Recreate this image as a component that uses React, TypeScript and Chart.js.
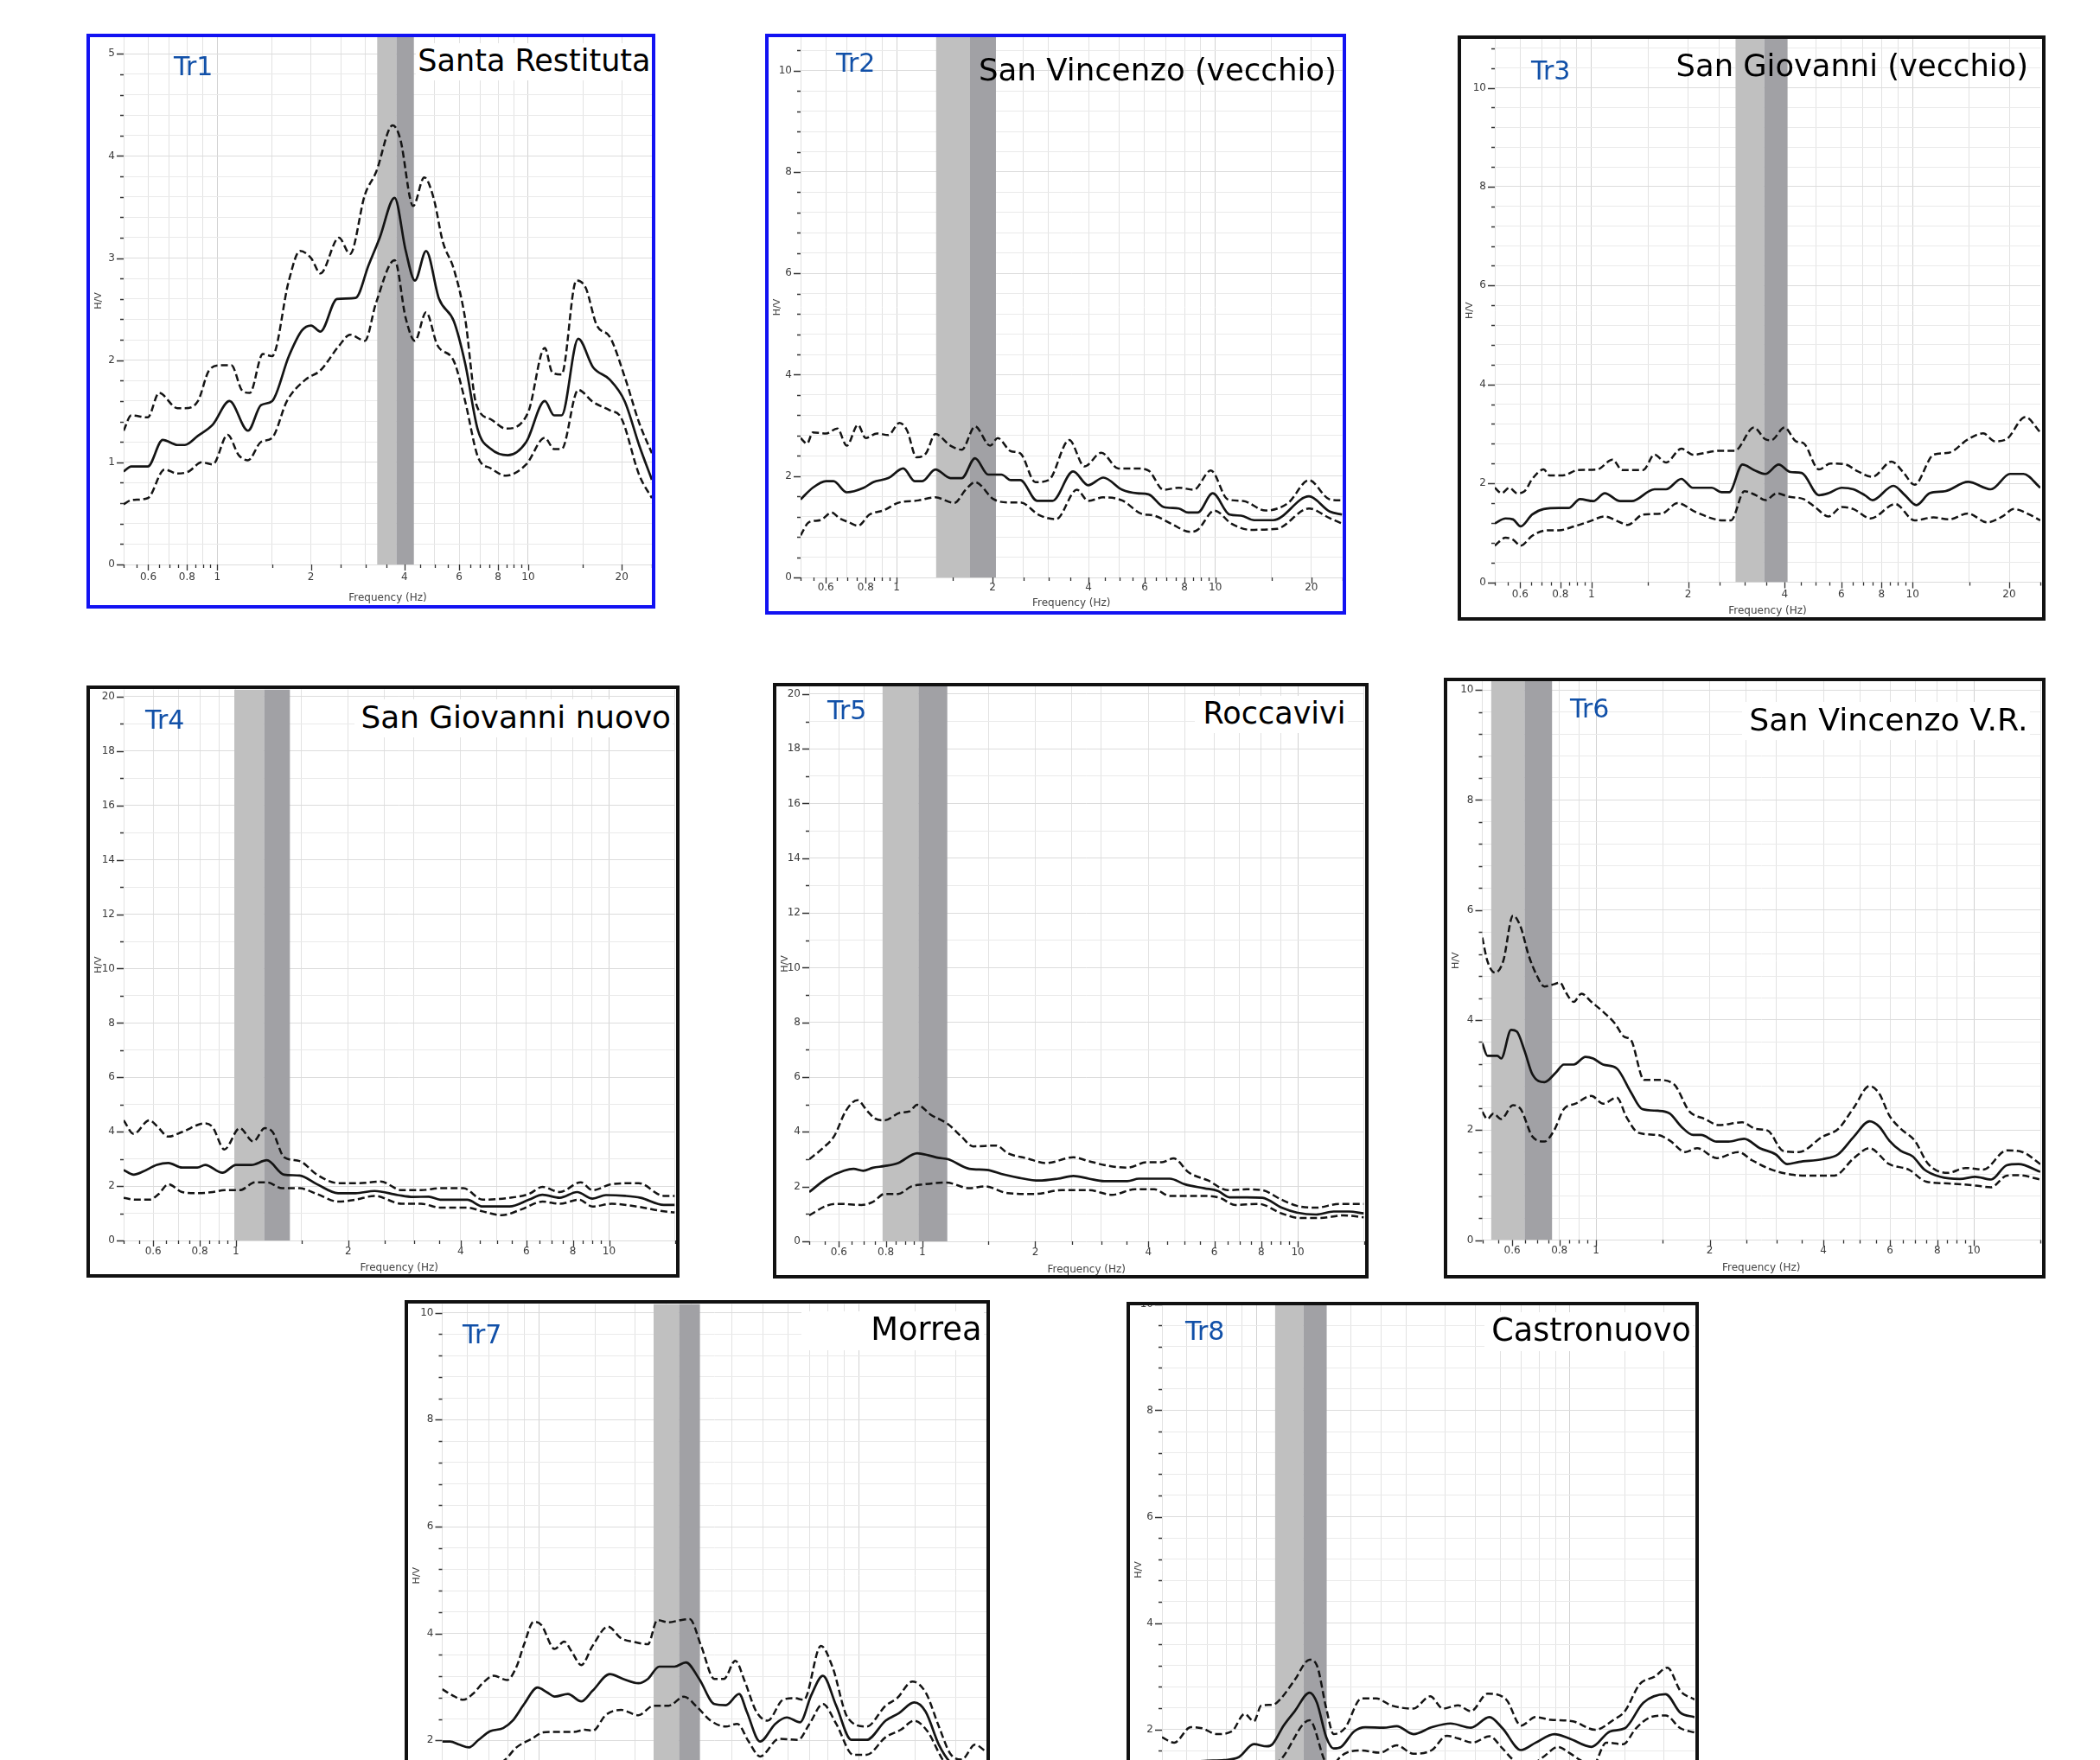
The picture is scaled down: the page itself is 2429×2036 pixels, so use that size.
import React, { useEffect, useRef } from "react";
import { Chart, registerables } from "chart.js";

Chart.register(...registerables);

const FONT = '"DejaVu Sans", "Noto Sans", sans-serif';
Chart.defaults.font.family = FONT;

// ---------------- axes / tick definitions ----------------
const X_TICKS = [0.5, 0.55, 0.6, 0.65, 0.7, 0.75, 0.8, 0.85, 0.9, 0.95, 1, 1.5, 2, 2.5, 3, 3.5, 4, 4.5, 5, 5.5, 6, 6.5, 7, 7.5, 8, 8.5, 9, 9.5, 10, 15, 20, 25];
const X_TICK_LABELS = [0.6, 0.8, 1, 2, 4, 6, 8, 10, 20];
const X_GRID = [0.5, 0.6, 0.7, 0.8, 0.9, 1, 1.5, 2, 2.5, 3, 4, 5, 6, 7, 8, 9, 10, 15, 20];
const X_GRID_STRONG = [1, 10];
const X_TITLE = "Frequency (Hz)";
const Y_TITLE = "H/V";

// ---------------- Tr1 Santa Restituta ----------------
const TR1_MEAN_F = [0.5, 0.529, 0.598, 0.668, 0.745, 0.787, 0.867, 0.968, 1.095, 1.256, 1.383, 1.502, 1.7, 1.871, 2.004, 2.147, 2.43, 2.787, 3.068, 3.332, 3.72, 4.04, 4.325, 4.697, 5.17, 5.77, 6.27, 6.9, 7.6, 8.6, 9.86, 11.31, 12.12, 12.81, 14.49, 16.18, 18.3, 20.43, 22.8, 25];
const TR1_MEAN_V = [0.91, 0.96, 0.96, 1.22, 1.17, 1.17, 1.26, 1.37, 1.6, 1.31, 1.56, 1.6, 2.04, 2.29, 2.34, 2.28, 2.6, 2.61, 2.93, 3.2, 3.59, 3.07, 2.78, 3.07, 2.6, 2.38, 1.97, 1.31, 1.13, 1.07, 1.2, 1.6, 1.46, 1.46, 2.21, 1.93, 1.81, 1.6, 1.16, 0.83];
const TR1_UP_F = [0.5, 0.529, 0.598, 0.65, 0.745, 0.787, 0.867, 0.941, 1.022, 1.11, 1.205, 1.273, 1.402, 1.502, 1.7, 1.845, 2.004, 2.147, 2.463, 2.674, 2.985, 3.241, 3.667, 3.876, 4.267, 4.633, 4.963, 5.316, 5.77, 6.27, 6.807, 7.6, 8.479, 10.0, 11.31, 11.96, 12.81, 14.29, 15.31, 16.63, 18.3, 20.43, 22.8, 25];
const TR1_UP_V = [1.31, 1.46, 1.44, 1.68, 1.53, 1.53, 1.6, 1.9, 1.95, 1.95, 1.7, 1.68, 2.06, 2.04, 2.78, 3.07, 3.0, 2.85, 3.2, 3.04, 3.62, 3.84, 4.3, 4.17, 3.51, 3.79, 3.59, 3.16, 2.89, 2.41, 1.57, 1.42, 1.33, 1.49, 2.12, 1.88, 1.86, 2.78, 2.71, 2.34, 2.23, 1.84, 1.38, 1.09];
const TR1_LO_F = [0.5, 0.529, 0.598, 0.677, 0.745, 0.809, 0.891, 0.968, 1.08, 1.173, 1.256, 1.383, 1.502, 1.676, 1.923, 2.147, 2.463, 2.674, 2.985, 3.241, 3.72, 4.04, 4.325, 4.697, 5.1, 5.77, 6.27, 6.9, 7.6, 8.479, 9.86, 11.31, 12.12, 12.81, 14.49, 16.18, 18.3, 19.88, 22.8, 25];
const TR1_LO_V = [0.59, 0.63, 0.65, 0.93, 0.89, 0.91, 1.0, 0.98, 1.27, 1.07, 1.02, 1.2, 1.24, 1.6, 1.81, 1.9, 2.14, 2.25, 2.19, 2.56, 2.98, 2.41, 2.19, 2.47, 2.15, 1.99, 1.6, 1.05, 0.94, 0.87, 0.98, 1.24, 1.13, 1.13, 1.71, 1.59, 1.51, 1.44, 0.87, 0.65];
const TR1_BAND_LIGHT = [3.27, 3.77];
const TR1_BAND_DARK = [3.77, 4.29];

// ---------------- Tr2 San Vincenzo (vecchio) ----------------
const TR2_MEAN_F = [0.5, 0.546, 0.601, 0.634, 0.698, 0.789, 0.845, 0.942, 1.05, 1.14, 1.204, 1.324, 1.476, 1.602, 1.763, 1.939, 2.133, 2.284, 2.444, 2.763, 3.082, 3.58, 3.993, 4.452, 5.1, 5.69, 6.17, 6.88, 7.68, 8.22, 8.8, 9.81, 11.09, 12.04, 13.24, 15.18, 19.66, 22.84, 25];
const TR2_MEAN_V = [1.54, 1.77, 1.9, 1.9, 1.68, 1.77, 1.88, 1.96, 2.15, 1.9, 1.9, 2.13, 1.96, 1.96, 2.35, 2.03, 2.03, 1.92, 1.92, 1.51, 1.51, 2.09, 1.82, 1.97, 1.73, 1.66, 1.64, 1.39, 1.36, 1.28, 1.28, 1.66, 1.24, 1.22, 1.13, 1.13, 1.6, 1.3, 1.24];
const TR2_UP_F = [0.5, 0.524, 0.546, 0.601, 0.652, 0.698, 0.757, 0.8, 0.868, 0.942, 1.022, 1.079, 1.155, 1.237, 1.324, 1.476, 1.602, 1.763, 1.966, 2.076, 2.284, 2.444, 2.726, 3.0, 3.48, 3.886, 4.39, 4.966, 5.69, 6.17, 6.88, 7.68, 8.56, 9.68, 10.94, 12.2, 14.37, 16.92, 19.66, 22.84, 25];
const TR2_UP_V = [2.75, 2.64, 2.86, 2.84, 2.94, 2.6, 3.01, 2.75, 2.84, 2.81, 3.05, 2.9, 2.37, 2.45, 2.83, 2.6, 2.52, 2.98, 2.6, 2.75, 2.49, 2.45, 1.88, 1.92, 2.71, 2.19, 2.46, 2.15, 2.15, 2.11, 1.73, 1.77, 1.73, 2.11, 1.54, 1.51, 1.32, 1.47, 1.92, 1.54, 1.52];
const TR2_LO_F = [0.5, 0.531, 0.577, 0.626, 0.661, 0.707, 0.757, 0.822, 0.917, 1.008, 1.171, 1.324, 1.517, 1.647, 1.763, 2.02, 2.253, 2.444, 2.802, 3.167, 3.679, 3.993, 4.452, 5.1, 5.85, 6.43, 7.27, 8.33, 8.8, 9.94, 11.24, 12.88, 15.59, 19.66, 22.84, 25];
const TR2_LO_V = [0.83, 1.09, 1.13, 1.28, 1.17, 1.09, 1.02, 1.24, 1.33, 1.47, 1.52, 1.58, 1.47, 1.73, 1.88, 1.54, 1.48, 1.48, 1.23, 1.15, 1.73, 1.51, 1.58, 1.52, 1.26, 1.22, 1.06, 0.9, 0.94, 1.32, 1.06, 0.94, 0.96, 1.36, 1.17, 1.06];
const TR2_BAND_LIGHT = [1.331, 1.7];
const TR2_BAND_DARK = [1.7, 2.05];

// ---------------- Tr3 San Giovanni (vecchio) ----------------
const TR3_MEAN_F = [0.5, 0.54, 0.57, 0.602, 0.654, 0.71, 0.792, 0.848, 0.921, 1.014, 1.1, 1.228, 1.334, 1.572, 1.707, 1.905, 2.068, 2.371, 2.54, 2.684, 2.953, 3.206, 3.48, 3.83, 4.16, 4.516, 5.11, 5.47, 6.02, 6.54, 7.1, 7.5, 8.72, 9.47, 10.28, 11.31, 12.63, 14.88, 17.54, 20.12, 22.14, 25];
const TR3_MEAN_V = [1.19, 1.29, 1.27, 1.13, 1.37, 1.48, 1.5, 1.5, 1.68, 1.64, 1.8, 1.64, 1.64, 1.88, 1.88, 2.09, 1.91, 1.91, 1.82, 1.82, 2.38, 2.27, 2.19, 2.38, 2.23, 2.21, 1.76, 1.8, 1.91, 1.88, 1.76, 1.66, 1.95, 1.76, 1.56, 1.8, 1.84, 2.03, 1.88, 2.19, 2.19, 1.91];
const TR3_UP_F = [0.5, 0.525, 0.555, 0.586, 0.619, 0.654, 0.71, 0.74, 0.814, 0.909, 1.042, 1.163, 1.245, 1.448, 1.572, 1.707, 1.905, 2.068, 2.505, 2.796, 3.206, 3.48, 3.627, 3.993, 4.334, 4.579, 5.11, 5.546, 6.19, 6.72, 7.5, 8.6, 9.34, 10.14, 11.63, 12.98, 14.88, 16.6, 18.03, 19.58, 22.45, 25];
const TR3_UP_V = [1.91, 1.8, 1.91, 1.8, 1.84, 2.09, 2.28, 2.16, 2.16, 2.27, 2.28, 2.48, 2.27, 2.27, 2.58, 2.42, 2.7, 2.58, 2.66, 2.66, 3.13, 2.89, 2.87, 3.13, 2.85, 2.81, 2.28, 2.4, 2.38, 2.25, 2.13, 2.44, 2.23, 1.97, 2.58, 2.62, 2.89, 3.01, 2.85, 2.89, 3.34, 3.03];
const TR3_LO_F = [0.5, 0.54, 0.57, 0.602, 0.654, 0.73, 0.792, 0.884, 0.986, 1.1, 1.228, 1.297, 1.448, 1.66, 1.853, 2.125, 2.575, 2.72, 2.994, 3.25, 3.48, 3.78, 4.104, 4.579, 4.97, 5.47, 6.02, 6.54, 7.4, 8.84, 10.14, 11.63, 12.98, 14.88, 17.07, 19.05, 20.68, 23.08, 25];
const TR3_LO_V = [0.74, 0.9, 0.86, 0.74, 0.94, 1.05, 1.05, 1.13, 1.23, 1.33, 1.21, 1.16, 1.37, 1.39, 1.6, 1.41, 1.25, 1.25, 1.84, 1.76, 1.66, 1.8, 1.73, 1.68, 1.52, 1.33, 1.52, 1.48, 1.29, 1.58, 1.25, 1.31, 1.27, 1.39, 1.21, 1.33, 1.48, 1.37, 1.25];
const TR3_BAND_LIGHT = [2.81, 3.45];
const TR3_BAND_DARK = [3.45, 4.08];

// ---------------- Tr4 San Giovanni nuovo ----------------
const TR4_MEAN_F = [0.5, 0.532, 0.565, 0.614, 0.659, 0.717, 0.788, 0.827, 0.92, 1.0, 1.1, 1.21, 1.346, 1.481, 1.648, 1.878, 2.09, 2.354, 2.716, 2.987, 3.285, 3.528, 4.168, 4.584, 5.414, 6.1, 6.63, 7.375, 8.21, 9.03, 9.81, 11.05, 12.15, 14.02, 15];
const TR4_MEAN_V = [2.59, 2.42, 2.54, 2.78, 2.85, 2.68, 2.68, 2.78, 2.49, 2.78, 2.78, 2.95, 2.42, 2.39, 2.07, 1.74, 1.74, 1.82, 1.67, 1.6, 1.61, 1.5, 1.5, 1.25, 1.25, 1.5, 1.68, 1.57, 1.78, 1.54, 1.67, 1.64, 1.57, 1.31, 1.31];
const TR4_UP_F = [0.5, 0.532, 0.586, 0.614, 0.659, 0.717, 0.827, 0.867, 0.931, 1.024, 1.113, 1.195, 1.254, 1.346, 1.481, 1.648, 1.878, 2.141, 2.44, 2.781, 3.132, 3.528, 4.07, 4.584, 5.414, 6.1, 6.63, 7.375, 8.4, 9.03, 10.17, 12.01, 14.02, 15];
const TR4_UP_V = [4.42, 3.92, 4.42, 4.21, 3.82, 3.99, 4.31, 4.16, 3.35, 4.13, 3.64, 4.13, 3.99, 3.06, 2.92, 2.42, 2.11, 2.11, 2.17, 1.85, 1.85, 1.92, 1.92, 1.5, 1.57, 1.71, 1.97, 1.78, 2.14, 1.85, 2.07, 2.11, 1.64, 1.64];
const TR4_LO_F = [0.5, 0.538, 0.586, 0.621, 0.659, 0.717, 0.788, 0.867, 0.931, 1.024, 1.126, 1.21, 1.33, 1.481, 1.648, 1.878, 2.09, 2.354, 2.781, 3.132, 3.528, 4.168, 4.584, 5.16, 5.815, 6.63, 7.375, 8.31, 9.03, 10.17, 11.87, 14.02, 15];
const TR4_LO_V = [1.57, 1.5, 1.5, 1.71, 2.07, 1.78, 1.74, 1.78, 1.85, 1.85, 2.14, 2.14, 1.92, 1.92, 1.71, 1.43, 1.5, 1.64, 1.35, 1.35, 1.21, 1.21, 1.07, 0.93, 1.14, 1.43, 1.35, 1.5, 1.25, 1.35, 1.25, 1.07, 1.03];
const TR4_BAND_LIGHT = [0.99, 1.19];
const TR4_BAND_DARK = [1.19, 1.395];

// ---------------- Tr5 Roccavivi ----------------
const TR5_MEAN_F = [0.5, 0.556, 0.619, 0.656, 0.696, 0.739, 0.793, 0.862, 0.97, 1.041, 1.104, 1.172, 1.335, 1.484, 1.651, 1.814, 2.042, 2.298, 2.526, 2.777, 3.052, 3.518, 3.776, 4.561, 5.015, 5.642, 6.13, 6.58, 7.32, 8.05, 9.06, 9.95, 11.2, 12.46, 13.69, 15];
const TR5_MEAN_V = [1.8, 2.29, 2.58, 2.65, 2.58, 2.69, 2.75, 2.86, 3.22, 3.14, 3.05, 3.0, 2.65, 2.61, 2.44, 2.32, 2.22, 2.29, 2.39, 2.29, 2.2, 2.2, 2.29, 2.29, 2.08, 1.94, 1.84, 1.61, 1.61, 1.59, 1.23, 1.05, 0.98, 1.09, 1.09, 1.02];
const TR5_UP_F = [0.5, 0.543, 0.583, 0.626, 0.672, 0.713, 0.748, 0.793, 0.872, 0.925, 0.97, 1.053, 1.172, 1.273, 1.366, 1.574, 1.69, 1.903, 2.141, 2.526, 2.777, 3.052, 3.518, 3.958, 4.35, 4.67, 5.134, 5.78, 6.504, 7.32, 8.05, 9.06, 9.95, 11.2, 12.91, 15];
const TR5_UP_V = [3.0, 3.4, 3.85, 4.77, 5.16, 4.77, 4.49, 4.42, 4.7, 4.75, 4.99, 4.63, 4.28, 3.82, 3.47, 3.5, 3.22, 3.03, 2.86, 3.07, 2.93, 2.79, 2.69, 2.89, 2.89, 3.03, 2.51, 2.22, 1.87, 1.9, 1.87, 1.52, 1.3, 1.23, 1.37, 1.37];
const TR5_LO_F = [0.5, 0.556, 0.597, 0.688, 0.739, 0.793, 0.862, 0.936, 1.005, 1.158, 1.335, 1.467, 1.69, 1.994, 2.353, 2.777, 3.2, 3.687, 4.15, 4.561, 5.134, 5.642, 6.2, 6.82, 7.86, 9.06, 10.19, 11.47, 13.22, 15];
const TR5_LO_V = [0.95, 1.3, 1.37, 1.33, 1.44, 1.73, 1.73, 2.01, 2.08, 2.15, 1.94, 2.01, 1.76, 1.73, 1.87, 1.87, 1.7, 1.9, 1.9, 1.66, 1.66, 1.66, 1.59, 1.33, 1.37, 1.02, 0.85, 0.85, 0.95, 0.88];
const TR5_BAND_LIGHT = [0.784, 0.977];
const TR5_BAND_DARK = [0.977, 1.166];

// ---------------- Tr6 San Vincenzo V.R. ----------------
const TR6_MEAN_F = [0.5, 0.516, 0.548, 0.561, 0.596, 0.617, 0.647, 0.679, 0.73, 0.784, 0.822, 0.873, 0.938, 0.983, 1.044, 1.135, 1.234, 1.326, 1.458, 1.567, 1.683, 1.808, 1.897, 2.087, 2.242, 2.467, 2.714, 2.986, 3.208, 3.446, 3.977, 4.376, 4.815, 5.298, 5.623, 5.97, 6.41, 6.89, 7.4, 8.14, 9.18, 10.1, 11.11, 12.22, 13.13, 15];
const TR6_MEAN_V = [3.58, 3.35, 3.35, 3.3, 3.82, 3.79, 3.44, 3.01, 2.87, 3.05, 3.19, 3.19, 3.33, 3.3, 3.19, 3.12, 2.7, 2.38, 2.35, 2.3, 2.06, 1.91, 1.91, 1.79, 1.79, 1.84, 1.67, 1.56, 1.38, 1.42, 1.47, 1.56, 1.88, 2.16, 2.06, 1.81, 1.62, 1.52, 1.28, 1.15, 1.11, 1.15, 1.1, 1.36, 1.38, 1.24];
const TR6_UP_F = [0.5, 0.516, 0.541, 0.568, 0.603, 0.632, 0.663, 0.696, 0.73, 0.774, 0.803, 0.832, 0.873, 0.915, 0.972, 1.044, 1.121, 1.19, 1.234, 1.341, 1.458, 1.605, 1.766, 1.943, 2.112, 2.438, 2.65, 2.847, 3.132, 3.446, 3.977, 4.376, 4.815, 5.298, 5.623, 5.97, 6.41, 6.97, 7.58, 8.54, 9.51, 10.59, 12.22, 13.45, 15];
const TR6_UP_V = [5.5, 5.07, 4.86, 5.07, 5.9, 5.69, 5.18, 4.82, 4.61, 4.65, 4.68, 4.5, 4.33, 4.48, 4.33, 4.15, 3.94, 3.69, 3.65, 2.91, 2.91, 2.84, 2.34, 2.2, 2.09, 2.14, 2.02, 1.99, 1.62, 1.6, 1.88, 2.02, 2.41, 2.8, 2.66, 2.27, 2.02, 1.81, 1.38, 1.22, 1.31, 1.28, 1.63, 1.6, 1.38];
const TR6_LO_F = [0.5, 0.516, 0.535, 0.561, 0.603, 0.632, 0.679, 0.73, 0.774, 0.822, 0.883, 0.972, 1.044, 1.135, 1.205, 1.294, 1.458, 1.567, 1.724, 1.852, 2.087, 2.38, 2.588, 2.916, 3.286, 3.703, 4.273, 4.815, 5.298, 5.97, 6.73, 7.49, 8.54, 10.1, 11.11, 12.22, 13.13, 15];
const TR6_LO_V = [2.33, 2.2, 2.3, 2.2, 2.45, 2.38, 1.88, 1.79, 1.99, 2.38, 2.48, 2.62, 2.48, 2.59, 2.23, 1.95, 1.91, 1.81, 1.6, 1.67, 1.49, 1.6, 1.45, 1.28, 1.19, 1.17, 1.17, 1.49, 1.67, 1.38, 1.28, 1.06, 1.03, 0.99, 0.96, 1.17, 1.18, 1.1];
const TR6_BAND_LIGHT = [0.528, 0.647];
const TR6_BAND_DARK = [0.647, 0.765];

// ---------------- Tr7 Morrea ----------------
const TR7_MEAN_F = [0.5, 0.529, 0.566, 0.606, 0.649, 0.705, 0.775, 0.83, 0.901, 0.992, 1.062, 1.122, 1.234, 1.358, 1.474, 1.668, 1.835, 2.048, 2.193, 2.379, 2.655, 2.882, 3.171, 3.538, 3.84, 4.226, 4.463, 4.912, 5.48, 5.95, 6.546, 7.1, 7.714, 8.49, 9.47, 10.56, 12.11, 13.32, 14.87, 16.14, 17.76, 19.28, 20.93, 22.72, 25];
const TR7_MEAN_V = [1.98, 1.98, 1.92, 1.87, 2.01, 2.17, 2.23, 2.37, 2.68, 2.99, 2.9, 2.82, 2.87, 2.73, 2.93, 3.24, 3.15, 3.07, 3.15, 3.38, 3.38, 3.46, 3.15, 2.68, 2.66, 2.87, 2.54, 1.98, 2.31, 2.43, 2.34, 2.85, 3.21, 2.65, 2.01, 2.01, 2.37, 2.51, 2.71, 2.54, 1.92, 1.59, 1.47, 1.56, 1.53];
const TR7_UP_F = [0.5, 0.536, 0.582, 0.623, 0.676, 0.724, 0.797, 0.853, 0.901, 0.965, 1.019, 1.122, 1.201, 1.269, 1.358, 1.474, 1.645, 1.81, 1.992, 2.193, 2.347, 2.548, 2.766, 2.962, 3.215, 3.538, 3.787, 4.111, 4.403, 4.779, 5.188, 5.788, 6.284, 6.727, 7.61, 8.26, 9.21, 10.56, 12.11, 13.15, 14.67, 16.14, 17.76, 19.28, 20.93, 23.03, 25];
const TR7_UP_V = [2.96, 2.85, 2.76, 2.87, 3.1, 3.21, 3.13, 3.38, 3.8, 4.22, 4.16, 3.71, 3.85, 3.66, 3.41, 3.77, 4.13, 3.91, 3.84, 3.8, 4.25, 4.21, 4.25, 4.27, 3.77, 3.15, 3.15, 3.49, 3.1, 2.54, 2.37, 2.76, 2.79, 2.76, 3.77, 3.38, 2.43, 2.26, 2.65, 2.79, 3.1, 2.9, 2.26, 1.75, 1.64, 1.92, 1.78];
const TR7_LO_F = [0.5, 0.6, 0.7, 0.786, 0.853, 0.952, 1.033, 1.122, 1.286, 1.396, 1.474, 1.623, 1.81, 2.048, 2.285, 2.548, 2.842, 3.128, 3.442, 3.84, 4.169, 4.524, 4.912, 5.63, 6.457, 7.007, 7.714, 8.49, 9.6, 10.56, 12.11, 13.51, 14.87, 16.36, 18.25, 21, 25];
const TR7_LO_V = [1.25, 1.35, 1.45, 1.64, 1.87, 2.03, 2.15, 2.16, 2.16, 2.2, 2.18, 2.48, 2.57, 2.47, 2.65, 2.65, 2.82, 2.62, 2.37, 2.26, 2.31, 1.98, 1.7, 2.03, 2.01, 2.31, 2.68, 2.31, 1.73, 1.73, 2.06, 2.2, 2.37, 2.17, 1.64, 1.2, 1.25];
const TR7_BAND_LIGHT = [2.285, 2.743];
const TR7_BAND_DARK = [2.743, 3.188];

// ---------------- Tr8 Castronuovo ----------------
const TR8_MEAN_F = [0.5, 0.6, 0.7, 0.79, 0.881, 0.982, 1.08, 1.126, 1.222, 1.326, 1.479, 1.561, 1.672, 1.765, 1.864, 2.05, 2.225, 2.55, 2.805, 3.171, 3.634, 4.164, 4.837, 5.54, 6.1, 6.99, 7.79, 8.93, 9.95, 11.73, 13.44, 14.99, 17.17, 20.21, 22.55, 25];
const TR8_MEAN_V = [1.36, 1.39, 1.41, 1.42, 1.48, 1.72, 1.68, 1.72, 2.07, 2.34, 2.69, 2.5, 1.85, 1.64, 1.67, 1.96, 2.04, 2.03, 2.06, 1.91, 2.04, 2.11, 2.03, 2.23, 2.02, 1.61, 1.75, 1.91, 1.83, 1.67, 1.96, 2.02, 2.5, 2.66, 2.31, 2.23];
const TR8_UP_F = [0.5, 0.547, 0.618, 0.671, 0.748, 0.835, 0.918, 0.982, 1.038, 1.126, 1.19, 1.326, 1.479, 1.561, 1.672, 1.765, 1.916, 2.165, 2.414, 2.692, 3.171, 3.585, 3.943, 4.398, 4.837, 5.467, 6.27, 6.99, 7.79, 8.69, 10.23, 12.05, 13.81, 14.99, 16.72, 18.63, 20.49, 22.55, 25];
const TR8_UP_V = [1.85, 1.75, 2.04, 2.02, 1.91, 1.96, 2.29, 2.15, 2.45, 2.46, 2.56, 2.93, 3.31, 3.2, 2.39, 1.91, 2.02, 2.58, 2.58, 2.45, 2.39, 2.62, 2.39, 2.45, 2.34, 2.67, 2.56, 2.07, 2.23, 2.18, 2.15, 1.99, 2.18, 2.34, 2.85, 2.99, 3.16, 2.72, 2.56];
const TR8_LO_F = [0.5, 0.6, 0.7, 0.85, 1.0, 1.19, 1.479, 1.649, 1.73, 1.814, 1.941, 2.165, 2.481, 2.805, 3.171, 3.634, 4.052, 4.398, 4.902, 5.54, 6.1, 6.615, 7.3, 8.23, 9.17, 9.95, 10.8, 11.8, 13.07, 14.78, 16.27, 18.13, 20.21, 22.55, 25];
const TR8_LO_V = [1.0, 1.1, 1.15, 1.2, 1.25, 1.42, 2.17, 1.42, 1.2, 1.42, 1.56, 1.6, 1.56, 1.7, 1.54, 1.61, 1.88, 1.83, 1.75, 1.87, 1.64, 1.42, 1.3, 1.48, 1.67, 1.56, 1.42, 1.3, 1.75, 1.72, 2.02, 2.23, 2.26, 2.02, 1.94];
const TR8_BAND_LIGHT = [1.148, 1.413];
const TR8_BAND_DARK = [1.413, 1.677];

// ---------------- styles ----------------
const BLUE_BORDER = "#1212f2";
const BLACK_BORDER = "#111111";
const TR_COLOR = "#1150a8";
const BAND_LIGHT_COLOR = "#c0c0c0";
const BAND_DARK_COLOR = "#a1a1a5";
const LINE_COLOR = "#141414";
const TICK_COLOR = "#3a3a3a";
const TR_FS = 30;

type Pair = [number[], number[]];
interface Panel {
  tr: string;
  name: string;
  mean: Pair;
  up: Pair;
  lo: Pair;
  light: number[];
  dark: number[];
  xMax: number;
  yMax: number;
  yStep: number;
  yLabelStep: number;
  box: number[];
  plot: number[];
  border: string;
  trAt: number[];
  titleAt: number[];
  titleFs: number;
  titleBg: boolean;
  titlePadL: number;
  xLabOff: number;
  xTitleOff: number;
}

const PANELS: Panel[] = [
  {
    tr: "Tr1", name: "Santa Restituta",
    mean: [TR1_MEAN_F, TR1_MEAN_V], up: [TR1_UP_F, TR1_UP_V], lo: [TR1_LO_F, TR1_LO_V],
    light: TR1_BAND_LIGHT, dark: TR1_BAND_DARK,
    xMax: 25, yMax: 5.163, yStep: 0.2, yLabelStep: 1,
    box: [102, 41, 756, 702], plot: [143, 43, 754, 653], border: BLUE_BORDER,
    trAt: [201, 87.5], titleAt: [752.5, 83], titleFs: 35, titleBg: true, titlePadL: 2, xLabOff: 15, xTitleOff: 39,
  },
  {
    tr: "Tr2", name: "San Vincenzo (vecchio)",
    mean: [TR2_MEAN_F, TR2_MEAN_V], up: [TR2_UP_F, TR2_UP_V], lo: [TR2_LO_F, TR2_LO_V],
    light: TR2_BAND_LIGHT, dark: TR2_BAND_DARK,
    xMax: 25, yMax: 10.66, yStep: 0.4, yLabelStep: 2,
    box: [887, 41, 1555, 709], plot: [926, 43, 1552.5, 668], border: BLUE_BORDER,
    trAt: [967, 83], titleAt: [1546, 93], titleFs: 35.6, titleBg: false, titlePadL: 0, xLabOff: 12, xTitleOff: 30,
  },
  {
    tr: "Tr3", name: "San Giovanni (vecchio)",
    mean: [TR3_MEAN_F, TR3_MEAN_V], up: [TR3_UP_F, TR3_UP_V], lo: [TR3_LO_F, TR3_LO_V],
    light: TR3_BAND_LIGHT, dark: TR3_BAND_DARK,
    xMax: 25, yMax: 10.99, yStep: 0.4, yLabelStep: 2,
    box: [1688, 43, 2364, 716], plot: [1729, 45, 2360, 673.5], border: BLACK_BORDER,
    trAt: [1771, 92.5], titleAt: [2346, 88.3], titleFs: 35.3, titleBg: false, titlePadL: 0, xLabOff: 14.5, xTitleOff: 33,
  },
  {
    tr: "Tr4", name: "San Giovanni nuovo",
    mean: [TR4_MEAN_F, TR4_MEAN_V], up: [TR4_UP_F, TR4_UP_V], lo: [TR4_LO_F, TR4_LO_V],
    light: TR4_BAND_LIGHT, dark: TR4_BAND_DARK,
    xMax: 15, yMax: 20.27, yStep: 1, yLabelStep: 2,
    box: [102, 795, 784, 1476], plot: [143, 797.5, 780.5, 1435], border: BLACK_BORDER,
    trAt: [168, 843], titleAt: [776, 842.4], titleFs: 35.8, titleBg: true, titlePadL: 8, xLabOff: 12.5, xTitleOff: 32,
  },
  {
    tr: "Tr5", name: "Roccavivi",
    mean: [TR5_MEAN_F, TR5_MEAN_V], up: [TR5_UP_F, TR5_UP_V], lo: [TR5_LO_F, TR5_LO_V],
    light: TR5_BAND_LIGHT, dark: TR5_BAND_DARK,
    xMax: 15, yMax: 20.28, yStep: 1, yLabelStep: 2,
    box: [896, 792, 1581, 1477], plot: [936, 794, 1577.5, 1436], border: BLACK_BORDER,
    trAt: [957, 832], titleAt: [1556.5, 838], titleFs: 35, titleBg: true, titlePadL: 10, xLabOff: 13, xTitleOff: 33,
  },
  {
    tr: "Tr6", name: "San Vincenzo V.R.",
    mean: [TR6_MEAN_F, TR6_MEAN_V], up: [TR6_UP_F, TR6_UP_V], lo: [TR6_LO_F, TR6_LO_V],
    light: TR6_BAND_LIGHT, dark: TR6_BAND_DARK,
    xMax: 15, yMax: 10.16, yStep: 0.4, yLabelStep: 2,
    box: [1672, 786, 2364, 1477], plot: [1714.5, 788, 2360, 1434.5], border: BLACK_BORDER,
    trAt: [1816, 830.5], titleAt: [2345.5, 845.4], titleFs: 36.3, titleBg: true, titlePadL: 8, xLabOff: 12.7, xTitleOff: 32.5,
  },
  {
    tr: "Tr7", name: "Morrea",
    mean: [TR7_MEAN_F, TR7_MEAN_V], up: [TR7_UP_F, TR7_UP_V], lo: [TR7_LO_F, TR7_LO_V],
    light: TR7_BAND_LIGHT, dark: TR7_BAND_DARK,
    xMax: 25, yMax: 10.165, yStep: 0.4, yLabelStep: 2,
    box: [470, 1506, 1143, 2190], plot: [511.5, 1508.5, 1141, 2137], border: BLACK_BORDER,
    trAt: [535, 1554], titleAt: [1135.5, 1551], titleFs: 36.8, titleBg: true, titlePadL: 80, xLabOff: 13, xTitleOff: 33,
  },
  {
    tr: "Tr8", name: "Castronuovo",
    mean: [TR8_MEAN_F, TR8_MEAN_V], up: [TR8_UP_F, TR8_UP_V], lo: [TR8_LO_F, TR8_LO_V],
    light: TR8_BAND_LIGHT, dark: TR8_BAND_DARK,
    xMax: 25, yMax: 10.0, yStep: 0.4, yLabelStep: 2,
    box: [1305, 1508, 1963, 2175], plot: [1344, 1508.5, 1960, 2123.5], border: BLACK_BORDER,
    trAt: [1371, 1550.5], titleAt: [1956, 1552], titleFs: 36.6, titleBg: true, titlePadL: 8, xLabOff: 13, xTitleOff: 33,
  },
];

const near = (arr: number[], v: number) => arr.some((a) => Math.abs(a - v) < 1e-7);

// bands under the curves, tick marks outside the plot
const decorPlugin = {
  id: "decor",
  beforeDatasetsDraw(chart: any, _args: any, opts: any) {
    const { ctx, chartArea: a, scales } = chart;
    const x = scales.x;
    ctx.save();
    ctx.beginPath();
    ctx.rect(a.left, a.top, a.right - a.left, a.bottom - a.top);
    ctx.clip();
    const bands: [number[], string][] = [
      [opts.light, BAND_LIGHT_COLOR],
      [opts.dark, BAND_DARK_COLOR],
    ];
    for (const [r, c] of bands) {
      const x0 = x.getPixelForValue(r[0]);
      const x1 = x.getPixelForValue(r[1]);
      ctx.fillStyle = c;
      ctx.fillRect(x0, a.top, x1 - x0, a.bottom - a.top);
    }
    ctx.restore();
  },
  afterDraw(chart: any, _args: any, opts: any) {
    const { ctx, chartArea: a, scales } = chart;
    const x = scales.x;
    const y = scales.y;
    ctx.save();
    ctx.strokeStyle = "#333";
    ctx.lineWidth = 1.3;
    ctx.beginPath();
    for (const t of x.ticks) {
      const px = Math.round(x.getPixelForValue(t.value)) + 0.5;
      const len = near(X_TICK_LABELS, t.value) ? 7 : 4;
      ctx.moveTo(px, a.bottom);
      ctx.lineTo(px, a.bottom + len);
    }
    for (const t of y.ticks) {
      const py = Math.round(y.getPixelForValue(t.value)) + 0.5;
      const lab = Math.abs(t.value / opts.yLabelStep - Math.round(t.value / opts.yLabelStep)) < 1e-6;
      const len = lab ? 8 : 4;
      ctx.moveTo(a.left - len, py);
      ctx.lineTo(a.left, py);
    }
    ctx.stroke();
    ctx.restore();
  },
};

function makeConfig(p: Panel): any {
  const [bl, bt, br, bb] = p.box;
  const [pl, pt, pr, pb] = p.plot;
  const yTicks: number[] = [];
  for (let i = 0; i * p.yStep <= p.yMax + 1e-9; i++) yTicks.push(Math.round(i * p.yStep * 1e6) / 1e6);
  const isYLab = (v: number) => Math.abs(v / p.yLabelStep - Math.round(v / p.yLabelStep)) < 1e-6;
  const xTicks = X_TICKS.filter((v) => v <= p.xMax + 1e-9);
  const ds = (pair: Pair, dashed: boolean) => ({
    data: pair[0].map((f, i) => ({ x: f, y: pair[1][i] })),
    borderColor: LINE_COLOR,
    borderWidth: dashed ? 2.5 : 2.7,
    borderDash: dashed ? [8, 4] : [],
    pointRadius: 0,
    fill: false,
    cubicInterpolationMode: "monotone",
  });
  return {
    type: "line",
    data: { datasets: [ds(p.up, true), ds(p.lo, true), ds(p.mean, false)] },
    options: {
      responsive: false,
      maintainAspectRatio: false,
      animation: false,
      devicePixelRatio: 1,
      events: [],
      layout: { padding: { left: 0, top: pt - bt, right: br - pr, bottom: 0 } },
      plugins: {
        legend: { display: false },
        tooltip: { enabled: false },
        decor: { light: p.light, dark: p.dark, yLabelStep: p.yLabelStep },
      },
      scales: {
        x: {
          type: "logarithmic",
          position: "bottom",
          min: 0.5,
          max: p.xMax,
          bounds: "data",
          afterBuildTicks: (s: any) => {
            s.ticks = xTicks.map((v) => ({ value: v }));
          },
          afterFit: (s: any) => {
            s.height = bb - pb;
            s.paddingLeft = 0;
            s.paddingRight = 0;
          },
          ticks: {
            autoSkip: false,
            maxRotation: 0,
            minRotation: 0,
            padding: p.xLabOff - 7.2,
            color: TICK_COLOR,
            font: { size: 12 },
            major: { enabled: false },
            callback: (v: number) => (near(X_TICK_LABELS, v) ? String(v) : ""),
          },
          grid: {
            drawTicks: false,
            lineWidth: 1,
            color: (c: any) => {
              const v = c.tick ? c.tick.value : null;
              if (v == null) return "rgba(0,0,0,0)";
              if (near(X_GRID_STRONG, v)) return "#d2d2d2";
              if (near(X_GRID, v)) return "#e2e2e2";
              return "rgba(0,0,0,0)";
            },
          },
          border: { display: false },
          title: {
            display: true,
            text: X_TITLE,
            color: "#444",
            font: { size: 12 },
            padding: { top: 0, bottom: bb - pb - p.xTitleOff - 7.2 },
          },
        },
        y: {
          type: "linear",
          position: "left",
          min: 0,
          max: p.yMax,
          bounds: "data",
          afterBuildTicks: (s: any) => {
            s.ticks = yTicks.map((v) => ({ value: v }));
          },
          afterFit: (s: any) => {
            s.width = pl - bl;
            s.paddingTop = 0;
            s.paddingBottom = 0;
          },
          ticks: {
            autoSkip: false,
            padding: 10,
            color: TICK_COLOR,
            font: { size: 12 },
            callback: (v: number) => (isYLab(v) ? String(Math.round(v)) : ""),
          },
          grid: {
            drawTicks: false,
            lineWidth: 1,
            color: (c: any) => {
              const v = c.tick ? c.tick.value : null;
              if (v == null) return "rgba(0,0,0,0)";
              return isYLab(v) ? "#dcdcdc" : "#eaeaea";
            },
          },
          border: { display: false },
          title: {
            display: true,
            text: Y_TITLE,
            color: "#444",
            font: { size: 11 },
            padding: { top: 12 - 6.6, bottom: 0 },
          },
        },
      },
    },
    plugins: [decorPlugin],
  };
}

function PanelView({ p }: { p: Panel }) {
  const ref = useRef<HTMLCanvasElement>(null);
  useEffect(() => {
    const chart = new Chart(ref.current as HTMLCanvasElement, makeConfig(p));
    return () => chart.destroy();
  }, [p]);
  const [bl, bt, br, bb] = p.box;
  const W = br - bl;
  const H = bb - bt;
  const padT = 3;
  const padR = 2;
  const padB = 5;
  const fs = p.titleFs;
  return (
    <>
      <canvas
        ref={ref}
        width={W}
        height={H}
        style={{ position: "absolute", left: bl, top: bt, width: W, height: H }}
      />
      <div
        style={{
          position: "absolute",
          left: p.trAt[0],
          top: p.trAt[1] - 0.846 * TR_FS,
          fontFamily: FONT,
          fontSize: TR_FS,
          lineHeight: `${TR_FS}px`,
          color: TR_COLOR,
          whiteSpace: "nowrap",
        }}
      >
        {p.tr}
      </div>
      <div
        style={{
          position: "absolute",
          right: 2429 - p.titleAt[0] - padR,
          top: p.titleAt[1] - 0.846 * fs - padT,
          padding: `${padT}px ${padR}px ${padB}px ${p.titlePadL}px`,
          background: p.titleBg ? "#ffffff" : "transparent",
          fontFamily: FONT,
          fontSize: fs,
          lineHeight: `${fs}px`,
          color: "#000",
          whiteSpace: "nowrap",
        }}
      >
        {p.name}
      </div>
      <div
        style={{
          position: "absolute",
          left: bl - 2,
          top: bt - 2,
          width: W + 4,
          height: H + 4,
          border: `4px solid ${p.border}`,
          boxSizing: "border-box",
          pointerEvents: "none",
        }}
      />
    </>
  );
}

export default function App() {
  return (
    <div
      style={{
        position: "absolute",
        left: 0,
        top: 0,
        width: 2429,
        height: 2036,
        overflow: "hidden",
        background: "#ffffff",
      }}
    >
      {PANELS.map((p) => (
        <PanelView key={p.tr} p={p} />
      ))}
    </div>
  );
}
